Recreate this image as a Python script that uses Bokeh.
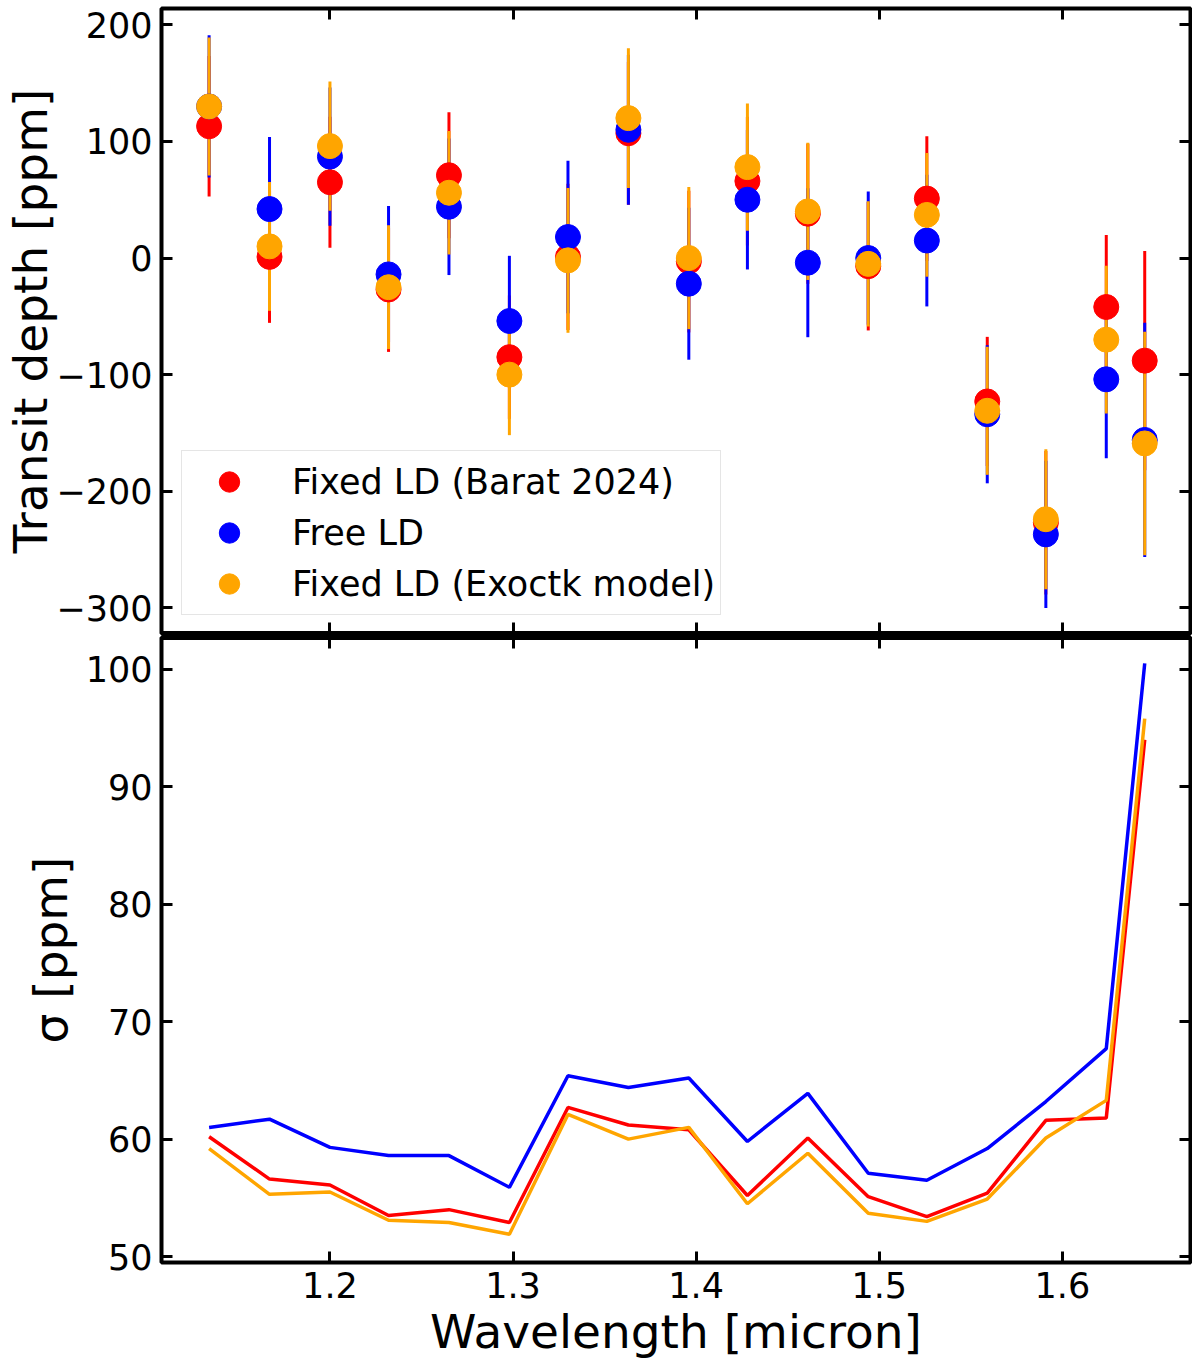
from bokeh.plotting import figure
from bokeh.layouts import column
from bokeh.models import Range1d, LinearAxis, FixedTicker, Legend, LegendItem
from bokeh.embed import file_html
from bokeh.resources import INLINE

# wavelength bins [micron]
wavelength = [1.134, 1.167, 1.200, 1.232, 1.265, 1.298, 1.330, 1.363, 1.396,
              1.428, 1.461, 1.494, 1.526, 1.559, 1.591, 1.624, 1.645]

# transit depth [ppm]
depth_barat = [113, 1, 65, -27, 71, -85, 1, 107, -3, 66, 38, -7, 51, -123, -227, -42, -88]
depth_free = [130, 42, 87, -14, 44, -54, 18, 110, -22, 50, -4, 0, 15, -134, -237, -104, -156]
depth_exoctk = [130, 10, 96, -25, 56, -100, -2, 120, 0, 78, 40, -5, 37, -131, -224, -70, -159]

# sigma [ppm]
sigma_barat = [60.2, 56.6, 56.1, 53.5, 54.0, 52.9, 62.7, 61.2, 60.8, 55.2, 60.1, 55.1, 53.4, 55.4, 61.6, 61.8, 94.0]
sigma_free = [61.0, 61.7, 59.3, 58.6, 58.6, 55.9, 65.4, 64.4, 65.2, 59.8, 63.9, 57.1, 56.5, 59.2, 63.2, 67.7, 100.5]
sigma_exoctk = [59.2, 55.3, 55.5, 53.1, 52.9, 51.9, 62.1, 60.0, 61.0, 54.5, 58.8, 53.7, 53.0, 54.9, 60.1, 63.3, 95.8]

labels = ["Fixed LD (Barat 2024)", "Free LD", "Fixed LD (Exoctk model)"]
colors = ["red", "blue", "orange"]

x_ticks = [1.2, 1.3, 1.4, 1.5, 1.6]
depth_ticks = [-300, -200, -100, 0, 100, 200]
sigma_ticks = [50, 60, 70, 80, 90, 100]

FONT = "DejaVu Sans"
x_range = Range1d(1.108, 1.670)


def style_axis(ax, ticks, show_labels=True):
    ax.ticker = FixedTicker(ticks=ticks)
    ax.major_tick_in = 11
    ax.major_tick_out = 0
    ax.minor_tick_in = 0
    ax.minor_tick_out = 0
    ax.major_tick_line_width = 3
    ax.major_tick_line_color = "black"
    ax.axis_line_width = 3
    ax.axis_line_color = "black"
    if show_labels:
        ax.major_label_text_font = FONT
        ax.major_label_text_font_size = "35px"
        ax.major_label_text_color = "black"
        ax.major_label_standoff = 9
        ax.axis_label_text_font = FONT
        ax.axis_label_text_font_size = "47px"
        ax.axis_label_text_font_style = "normal"
        ax.axis_label_text_color = "black"
    else:
        # ticks only, no labels drawn
        ax.major_label_text_font_size = "0px"
        ax.major_label_text_color = None
        ax.major_label_standoff = 0


def make_fig(y_range, height, border_top, border_bottom):
    p = figure(width=1192, height=height, x_range=x_range, y_range=y_range,
               output_backend="svg", toolbar_location=None,
               min_border_left=161, min_border_right=2,
               min_border_top=border_top, min_border_bottom=border_bottom)
    p.grid.visible = False
    p.outline_line_color = "black"
    p.outline_line_width = 4
    p.background_fill_color = "white"
    p.border_fill_color = "white"
    return p


# ---- top panel: transit depth with error bars ----
top = make_fig(Range1d(-322, 214), 635, 8, 2)
style_axis(top.xaxis[0], x_ticks, show_labels=False)
top.xaxis[0].axis_line_width = 5
style_axis(top.yaxis[0], depth_ticks)
top.yaxis[0].axis_label = "Transit depth [ppm]"
top.yaxis[0].axis_label_standoff = -5
ax = LinearAxis()
style_axis(ax, depth_ticks, show_labels=False)
top.add_layout(ax, "right")
ax = LinearAxis()
style_axis(ax, x_ticks, show_labels=False)
top.add_layout(ax, "above")

depths = [depth_barat, depth_free, depth_exoctk]
sigmas = [sigma_barat, sigma_free, sigma_exoctk]

for d, s, c in zip(depths, sigmas, colors):
    lo = [v - e for v, e in zip(d, s)]
    hi = [v + e for v, e in zip(d, s)]
    top.segment(x0=wavelength, x1=wavelength, y0=lo, y1=hi, line_color=c, line_width=3)

dots = []
for d, c in zip(depths, colors):
    dots.append(top.scatter(x=wavelength, y=d, size=25, marker="circle",
                            fill_color=c, line_color=c))

legend = Legend(items=[LegendItem(label=l, renderers=[r]) for l, r in zip(labels, dots)],
                location=(20, 18), orientation="vertical",
                label_text_font=FONT, label_text_font_size="35px",
                label_text_color="black",
                glyph_width=84, glyph_height=51, label_height=51,
                label_standoff=21, spacing=0, padding=5, margin=0,
                border_line_color="#cccccc", border_line_width=1,
                background_fill_color="white", background_fill_alpha=0.8)
top.add_layout(legend, "center")

# ---- bottom panel: sigma ----
bot = make_fig(Range1d(49.5, 102.7), 726, 2, 60)
style_axis(bot.xaxis[0], x_ticks)
bot.xaxis[0].axis_label = "Wavelength [micron]"
bot.xaxis[0].major_label_standoff = 9
bot.xaxis[0].axis_label_standoff = 3
style_axis(bot.yaxis[0], sigma_ticks)
bot.yaxis[0].axis_label = "σ [ppm]"
bot.yaxis[0].axis_label_standoff = 5
ax = LinearAxis()
style_axis(ax, sigma_ticks, show_labels=False)
bot.add_layout(ax, "right")
ax = LinearAxis()
style_axis(ax, x_ticks, show_labels=False)
ax.axis_line_width = 5
bot.add_layout(ax, "above")

for s, c in zip(sigmas, colors):
    bot.line(x=wavelength, y=s, line_color=c, line_width=3.5)

layout = column(top, bot, spacing=0)
open("out.html", "w").write(file_html(layout, INLINE))
